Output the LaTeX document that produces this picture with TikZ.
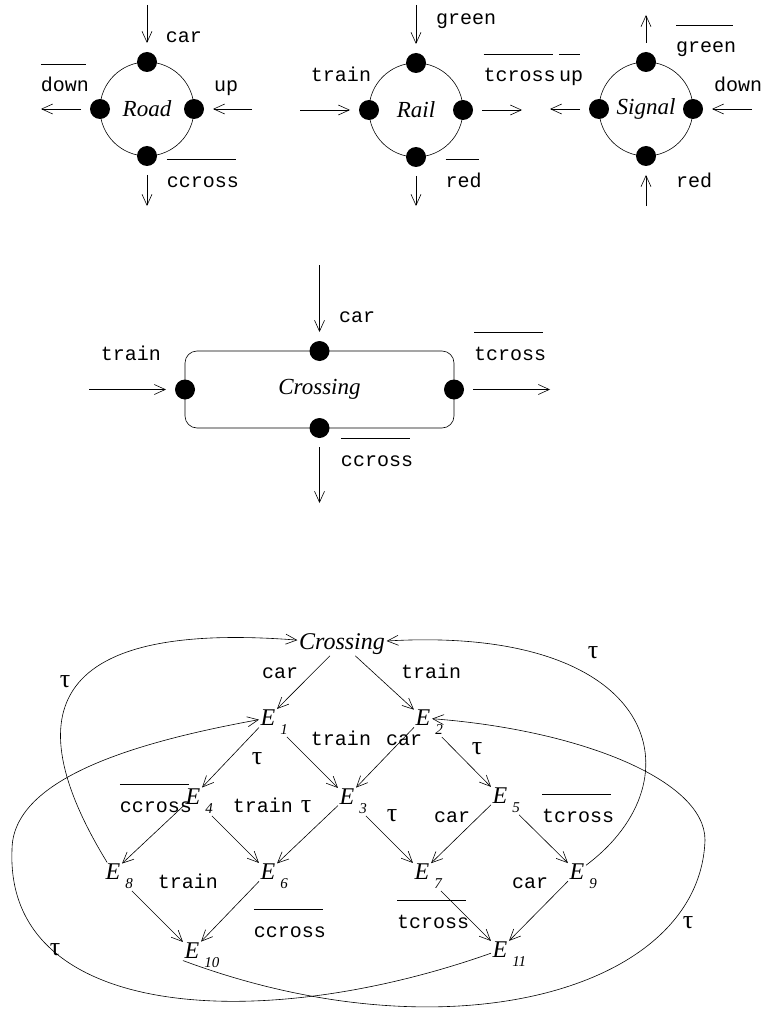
\documentclass[tikz,border=0pt]{standalone}
\usepackage{fontspec}
\setmainfont{Liberation Serif}
\setmonofont{Liberation Mono}
\usetikzlibrary{arrows.meta}

% complemented action: bar above the name
\newcommand{\barlab}[1]{\setbox0\hbox{\vrule height 17pt width 0pt #1}%
  \vbox{\hrule height .7pt width \dimexpr\wd0-3pt\relax\kern 10pt\box0}}
% state E with its index hanging below right
\newcommand{\stE}[1]{E\rlap{\smash{\kern5pt\raisebox{-9pt}{\fontsize{15}{15}\selectfont #1}}}}

\begin{document}
\begin{tikzpicture}[x=1pt,y=-1pt]
\tikzstyle{proc} = [draw, circle, line width=.6pt, minimum size=94pt, inner sep=0pt, outer sep=0pt, font=\fontsize{23}{26}\selectfont\itshape]
\tikzstyle{port} = [circle, fill, minimum size=20pt, inner sep=0pt, outer sep=9pt]
\tikzstyle{act} = [anchor=base, inner sep=0pt, font=\fontsize{20}{24}\selectfont\ttfamily]
\tikzstyle{arr} = [-{Straight Barb[length=11pt,width=10pt]}, line width=.6pt]
\tikzstyle{state} = [inner sep=1.5pt, font=\fontsize{24}{26}\selectfont\itshape]
\tikzstyle{tau} = [inner sep=0pt, font=\fontsize{26}{28}\selectfont]
\tikzstyle{away} = [shorten <=14pt]

\useasboundingbox (0,0) rectangle (765,1019);

% Road
\node[proc] (road) at (147,109) {Road};
\foreach \p/\a in {N/north,E/east,S/south,W/west}
  \node[port] (road\p) at (road.\a) {};
\coordinate (roadNx) at (147,5);
\coordinate (roadEx) at (252,109);
\coordinate (roadSx) at (147,206);
\coordinate (roadWx) at (41,109);
\draw[arr] (roadNx) -- (roadN);
\draw[arr] (roadEx) -- (roadE);
\draw[arr] (roadS) -- (roadSx);
\draw[arr] (roadW) -- (roadWx);
\node[act] (roadcar) at (184,43) {car};
\node[act] (roadup) at (226,92) {up};
\node[act] (roaddown) at (65,92) {\barlab{down}};
\node[act] (roadccross) at (203,187) {\barlab{ccross}};

% Rail
\node[proc] (rail) at (416,110) {Rail};
\foreach \p/\a in {N/north,E/east,S/south,W/west}
  \node[port] (rail\p) at (rail.\a) {};
\coordinate (railNx) at (416,5);
\coordinate (railEx) at (522,110);
\coordinate (railSx) at (416,206);
\coordinate (railWx) at (300,110);
\draw[arr] (railNx) -- (railN);
\draw[arr] (railWx) -- (railW);
\draw[arr] (railE) -- (railEx);
\draw[arr] (railS) -- (railSx);
\node[act] (railgreen) at (466,25) {green};
\node[act] (railtrain) at (341,82) {train};
\node[act] (railtcross) at (519.5,82) {\barlab{tcross}};
\node[act] (railred) at (463.5,187) {\barlab{red}};

% Signal
\node[proc] (sig) at (646,109) {Signal};
\foreach \p/\a in {N/north,E/east,S/south,W/west}
  \node[port] (sig\p) at (sig.\a) {};
\coordinate (sigNx) at (646,15);
\coordinate (sigEx) at (752,109);
\coordinate (sigSx) at (646,206);
\coordinate (sigWx) at (550,109);
\draw[arr] (sigN) -- (sigNx);
\draw[arr] (sigW) -- (sigWx);
\draw[arr] (sigEx) -- (sigE);
\draw[arr] (sigSx) -- (sigS);
\node[act] (sigup) at (571,82) {\barlab{up}};
\node[act] (siggreen) at (706,53) {\barlab{green}};
\node[act] (sigdown) at (738,92) {down};
\node[act] (sigred) at (694,187) {red};

% Crossing = Road | Rail | Signal
\node[draw, rounded corners=12pt, line width=.6pt, minimum width=269pt, minimum height=77pt,
  inner sep=0pt, outer sep=0pt, font=\fontsize{23}{26}\selectfont\itshape] (cross) at (319.5,389.5) {Crossing};
\foreach \p/\a in {N/north,E/east,S/south,W/west}
  \node[port] (cross\p) at (cross.\a) {};
\coordinate (crossNx) at (319.5,265);
\coordinate (crossEx) at (550,389.5);
\coordinate (crossSx) at (319.5,503);
\coordinate (crossWx) at (89,389.5);
\draw[arr] (crossNx) -- (crossN);
\draw[arr] (crossWx) -- (crossW);
\draw[arr] (crossE) -- (crossEx);
\draw[arr] (crossS) -- (crossSx);
\node[act] (crosscar) at (357,322) {car};
\node[act] (crosstrain) at (131,360) {train};
\node[act] (crosstcross) at (510,360) {\barlab{tcross}};
\node[act] (crossccross) at (377,466) {\barlab{ccross}};

% transition graph
\node[state, anchor=base] (start) at (342,649) {Crossing};
\node[state] (e1) at (268,718) {\stE{1}};
\node[state] (e2) at (423,718) {\stE{2}};
\node[state] (e4) at (193,797) {\stE{4}};
\node[state] (e3) at (347,797) {\stE{3}};
\node[state] (e5) at (500,796) {\stE{5}};
\node[state] (e8) at (113,872) {\stE{8}};
\node[state] (e6) at (268,872) {\stE{6}};
\node[state] (e7) at (422,872) {\stE{7}};
\node[state] (e9) at (577,872) {\stE{9}};
\node[state] (e10) at (192,951) {\stE{10}};
\node[state] (e11) at (500,950) {\stE{11}};

\draw[arr] (start) -- (e1);
\draw[arr] (start) -- (e2);
\draw[arr] (e1) -- (e4);
\draw[arr, away] (e1) -- (e3);
\draw[arr] (e2) -- (e3);
\draw[arr, away] (e2) -- (e5);
\draw[arr] (e4) -- (e8);
\draw[arr, away] (e4) -- (e6);
\draw[arr] (e3) -- (e6);
\draw[arr, away] (e3) -- (e7);
\draw[arr] (e5) -- (e7);
\draw[arr, away] (e5) -- (e9);
\draw[arr, away] (e8) -- (e10);
\draw[arr] (e6) -- (e10);
\draw[arr, away] (e7) -- (e11);
\draw[arr] (e9) -- (e11);

% tau loops back
\coordinate (rloop) at (705,840);
\coordinate (lloop) at (12,850);
\draw[arr] (e8) .. controls (20,720) and (40,620) .. (start);
\draw[arr] (e9) .. controls (700,780) and (660,625) .. (start);
\draw[arr] (e10.south west) .. controls (450,1060) and (700,990) .. (rloop)
  .. controls (705,780) and (580,730) .. (e2);
\draw[arr] (e11) .. controls (260,1035) and (5,1020) .. (lloop)
  .. controls (12,780) and (130,743) .. (e1);

\node[act] (l01) at (280,678) {car};
\node[act] (l02) at (431,678) {train};
\node[act] (l13) at (341,745) {train};
\node[act] (l23) at (404,745) {car};
\node[act] (l48) at (156,812) {\barlab{ccross}};
\node[act] (l46) at (263,812) {train};
\node[act] (l57) at (452,822) {car};
\node[act] (l59) at (578,822) {\barlab{tcross}};
\node[act] (l810) at (188,888) {train};
\node[act] (l610) at (290,937) {\barlab{ccross}};
\node[act] (l711) at (433,928) {\barlab{tcross}};
\node[act] (l911) at (530,888) {car};

\node[tau] (t8) at (65,682) {τ};
\node[tau] (t9) at (593,653) {τ};
\node[tau] (t10) at (688,923) {τ};
\node[tau] (t11) at (55,950) {τ};
\node[tau] (t14) at (257,759) {τ};
\node[tau] (t25) at (477,749) {τ};
\node[tau] (t36) at (306,807) {τ};
\node[tau] (t37) at (392,816) {τ};
\end{tikzpicture}
\end{document}
